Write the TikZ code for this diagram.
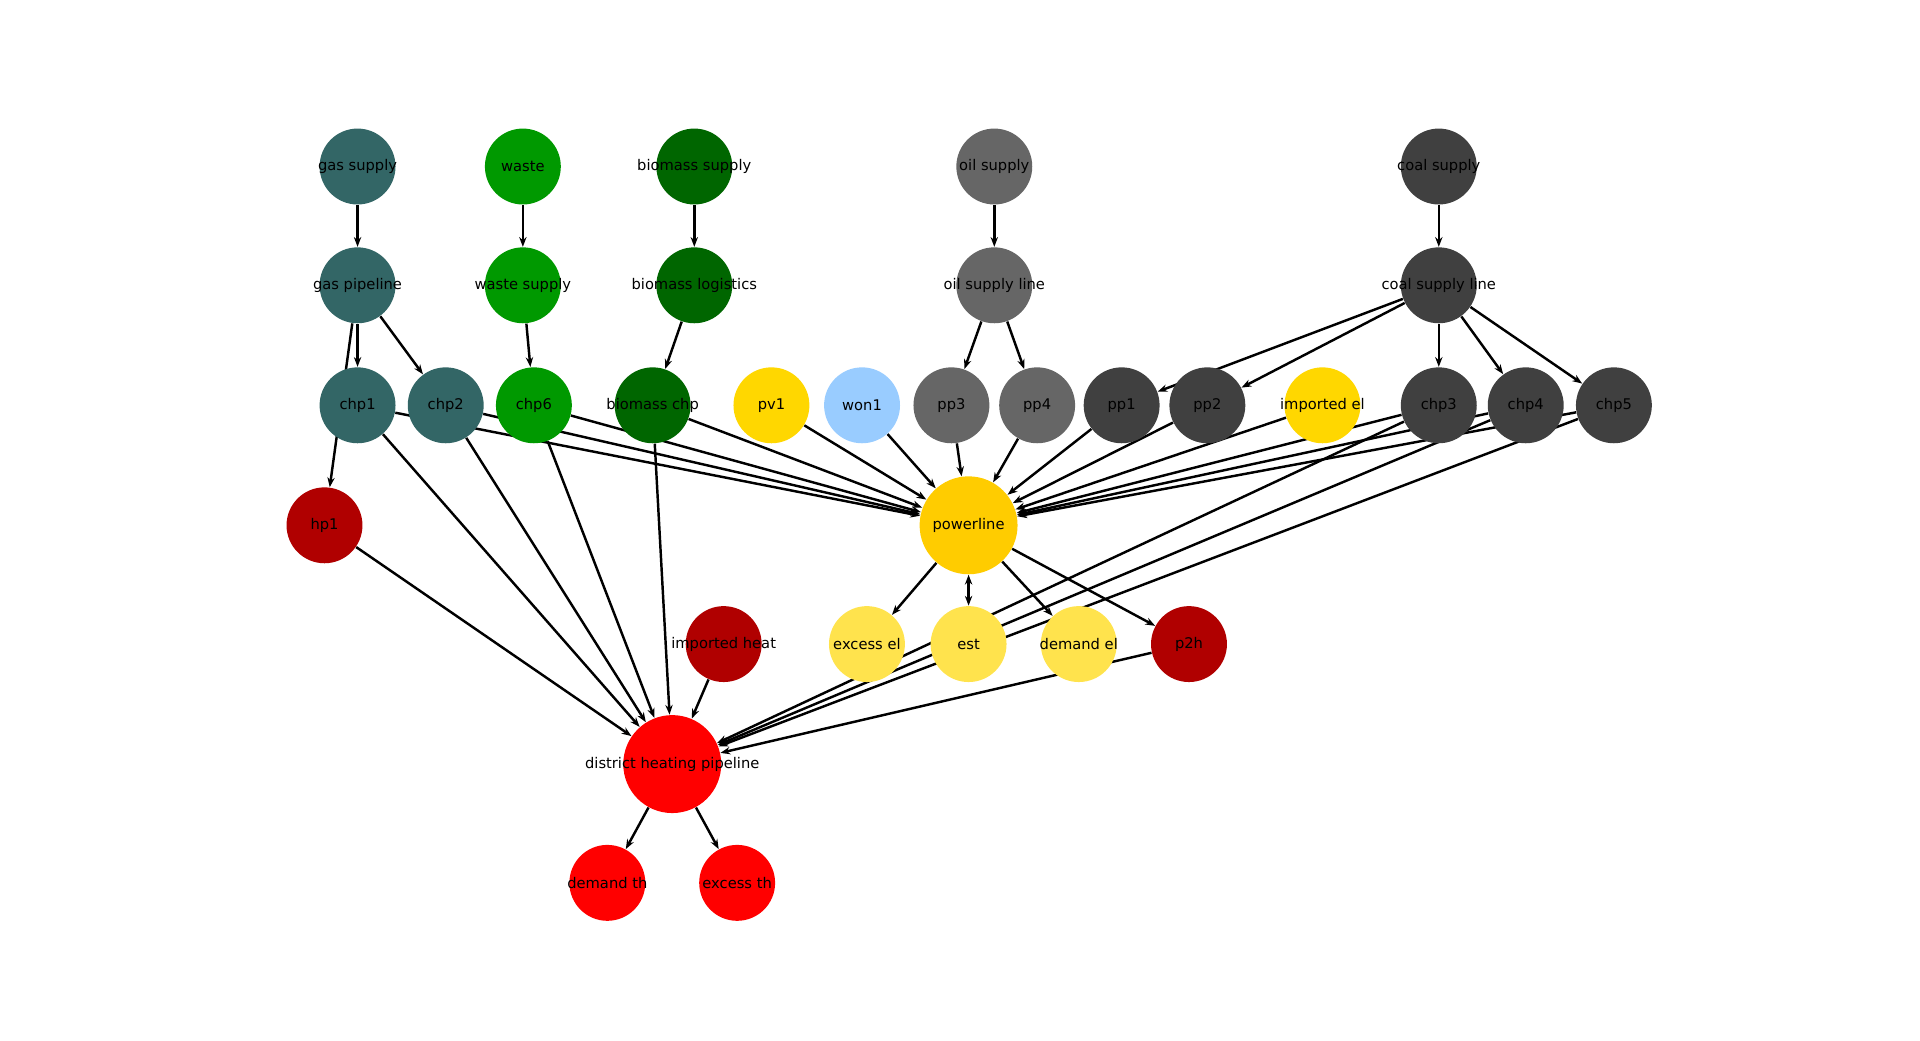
\documentclass[tikz,border=0pt]{standalone}
\usepackage{fontspec}
\setmainfont{DejaVu Sans}
\usetikzlibrary{arrows.meta,backgrounds}
\definecolor{cgas}{HTML}{336666}
\definecolor{cwaste}{HTML}{009900}
\definecolor{cbio}{HTML}{006600}
\definecolor{coil}{HTML}{666666}
\definecolor{ccoal}{HTML}{404040}
\definecolor{cpv}{HTML}{FFD700}
\definecolor{cwind}{HTML}{99CCFF}
\definecolor{cpow}{HTML}{FFCC00}
\definecolor{cel}{HTML}{FFE34D}
\definecolor{cheat}{HTML}{B00000}
\definecolor{cdh}{HTML}{FF0000}
\tikzset{
  n/.style={circle,draw=none,inner sep=0pt,minimum size=31pt,font=\fontsize{6}{7}\selectfont},
  big/.style={n,minimum size=40pt},
  ed/.style={line width=1pt,-{Stealth[length=4pt,width=3pt]}},
}
\newcommand{\nd}[5][n]{\node[#1,fill=#2,label={[font=\fontsize{6}{7}\selectfont]center:#5}] (#3) at #4 {};}
\begin{document}
\begin{tikzpicture}[x=0.5pt,y=-0.5pt]
\useasboundingbox (0,0) rectangle (1568,850);
\nd{cgas}{gs}{(292,136)}{gas supply}
\nd{cwaste}{w}{(427,136)}{waste}
\nd{cbio}{bs}{(567,136)}{biomass supply}
\nd{coil}{os}{(812,136)}{oil supply}
\nd{ccoal}{cs}{(1175,136)}{coal supply}
\nd{cgas}{gp}{(292,233)}{gas pipeline}
\nd{cwaste}{ws}{(427,233)}{waste supply}
\nd{cbio}{bl}{(567,233)}{biomass logistics}
\nd{coil}{ol}{(812,233)}{oil supply line}
\nd{ccoal}{cl}{(1175,233)}{coal supply line}
\nd{cgas}{chpa}{(292,331)}{chp1}
\nd{cgas}{chpb}{(364,331)}{chp2}
\nd{cwaste}{chpf}{(436,331)}{chp6}
\nd{cbio}{bc}{(533,331)}{biomass chp}
\nd{cpv}{pv}{(630,331)}{pv1}
\nd{cwind}{won}{(704,331)}{won1}
\nd{coil}{ppc}{(777,331)}{pp3}
\nd{coil}{ppd}{(847,331)}{pp4}
\nd{ccoal}{ppa}{(916,331)}{pp1}
\nd{ccoal}{ppb}{(986,331)}{pp2}
\nd{cpv}{iel}{(1080,331)}{imported el}
\nd{ccoal}{chpc}{(1175,331)}{chp3}
\nd{ccoal}{chpd}{(1246,331)}{chp4}
\nd{ccoal}{chpe}{(1318,331)}{chp5}
\nd{cheat}{hp}{(265,429)}{hp1}
\nd[big]{cpow}{pl}{(791,429)}{powerline}
\nd{cheat}{ih}{(591,526)}{imported heat}
\nd{cel}{xel}{(708,526)}{excess el}
\nd{cel}{est}{(791,526)}{est}
\nd{cel}{del}{(881,526)}{demand el}
\nd{cheat}{ph}{(971,526)}{p2h}
\nd[big]{cdh}{dh}{(549,624)}{district heating pipeline}
\nd{cdh}{dth}{(496,721)}{demand th}
\nd{cdh}{xth}{(602,721)}{excess th}
\begin{scope}[on background layer]
\draw[ed] (gs)--(gp);
\draw[ed] (w)--(ws);
\draw[ed] (bs)--(bl);
\draw[ed] (os)--(ol);
\draw[ed] (cs)--(cl);
\draw[ed] (gp)--(chpa);
\draw[ed] (gp)--(hp);
\draw[ed] (gp)--(chpb);
\draw[ed] (ws)--(chpf);
\draw[ed] (bl)--(bc);
\draw[ed] (ol)--(ppc);
\draw[ed] (ol)--(ppd);
\foreach \t in {ppa,ppb,chpc,chpd,chpe} \draw[ed] (cl)--(\t);
\foreach \s in {chpa,chpb,chpf,bc,pv,won,ppc,ppd,ppa,ppb,iel,chpc,chpd,chpe} \draw[ed] (\s)--(pl);
\foreach \s in {hp,chpa,chpb,chpf,bc,ih,chpc,chpd,chpe,ph} \draw[ed] (\s)--(dh);
\draw[ed] (pl)--(xel);
\draw[line width=1pt,{Stealth[length=4pt,width=3pt]}-{Stealth[length=4pt,width=3pt]}] (pl)--(est);
\draw[ed] (pl)--(del);
\draw[ed] (pl)--(ph);
\draw[ed] (dh)--(dth);
\draw[ed] (dh)--(xth);
\end{scope}
\end{tikzpicture}
\end{document}
